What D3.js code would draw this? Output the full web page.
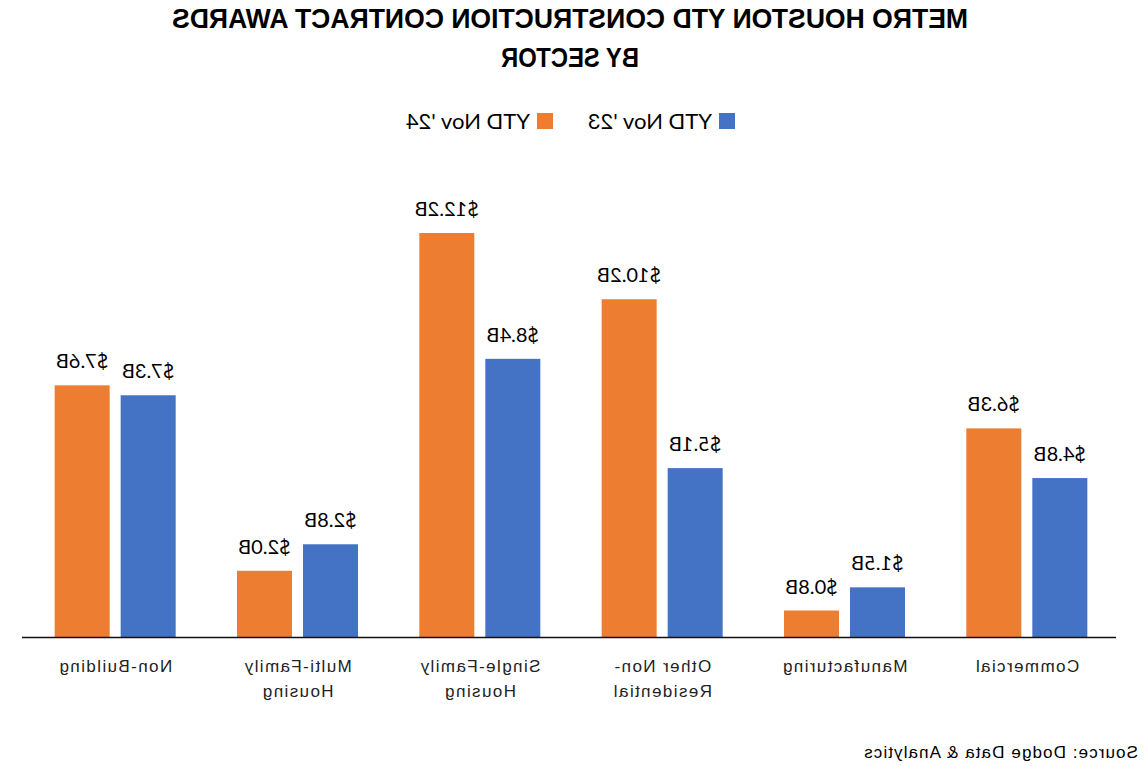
<!DOCTYPE html>
<html><head><meta charset="utf-8">
<script src="https://cdn.jsdelivr.net/npm/d3@7"></script>
<style>
html,body{margin:0;padding:0;background:#fff;}
svg{display:block;transform:scaleX(-1);}
</style></head>
<body>
<script>
const categories = [["Commercial"],["Manufacturing"],["Other Non-","Residential"],["Single-Family","Housing"],["Multi-Family","Housing"],["Non-Building"]];
const seriesNames = ["YTD Nov '23","YTD Nov '24"];
const nov23 = [4.8,1.5,5.1,8.4,2.8,7.3];
const nov24 = [6.3,0.8,10.2,12.2,2.0,7.6];
const colors = ["#4472C4","#ED7D31"];
const titleLines = ["METRO HOUSTON YTD CONSTRUCTION CONTRACT AWARDS","BY SECTOR"];
const sourceText = "Source: Dodge Data & Analytics";

const W=1146,H=766;
const svg=d3.select("body").append("svg").attr("width",W).attr("height",H);

const x0=d3.scaleBand().domain(d3.range(categories.length)).range([30,1124]).paddingInner(0).paddingOuter(0);
const y=d3.scaleLinear().domain([0,12.2]).range([637,233]);
const bw=55, gap=11;

// title
const titleW=[796,138];
svg.selectAll("text.title").data(titleLines).join("text")
 .attr("x",576).attr("y",(d,i)=>28+i*39).attr("text-anchor","middle")
 .attr("textLength",(d,i)=>titleW[i]).attr("lengthAdjust","spacingAndGlyphs")
 .style("font-family","'Liberation Sans',Arial").style("font-weight","bold").style("font-size","27px")
 .text(d=>d);

// legend
const legX=[411,593];
seriesNames.forEach((s,i)=>{
  svg.append("rect").attr("x",legX[i]).attr("y",113).attr("width",16).attr("height",16).attr("fill",colors[i]);
  svg.append("text").attr("x",legX[i]+23).attr("y",129).style("font-family","Lato,'Open Sans',sans-serif").style("font-size","22px").text(s);
});

const data=[nov23,nov24];
const g=svg.append("g");
categories.forEach((c,ci)=>{
  const center=x0(ci)+x0.bandwidth()/2-2;
  data.forEach((arr,si)=>{
    const bx=center-bw-gap/2+si*(bw+gap);
    g.append("rect").attr("x",bx).attr("y",y(arr[ci])).attr("width",bw).attr("height",y(0)-y(arr[ci])).attr("fill",colors[si]);
    g.append("text").attr("x",bx+bw/2).attr("y",y(arr[ci])-17).attr("text-anchor","middle")
      .style("font-family","Lato,'Open Sans',sans-serif").style("font-size","20px").text("$"+arr[ci].toFixed(1)+"B");
  });
  const t=g.append("text").attr("text-anchor","middle").style("font-family","'Liberation Sans',Arial").style("font-size","17px").style("letter-spacing","1.4px").style("fill","#222");
  c.forEach((line,li)=>t.append("tspan").attr("x",center).attr("y",672+li*25).text(line));
});

svg.append("line").attr("x1",30).attr("x2",1124).attr("y1",637.5).attr("y2",637.5).attr("stroke","#111").attr("stroke-width",1.5);

svg.append("text").attr("x",8).attr("y",758).style("font-family","'Liberation Sans',Arial").style("font-size","17px").style("letter-spacing","1.1px").text(sourceText);
</script>
</body></html>
